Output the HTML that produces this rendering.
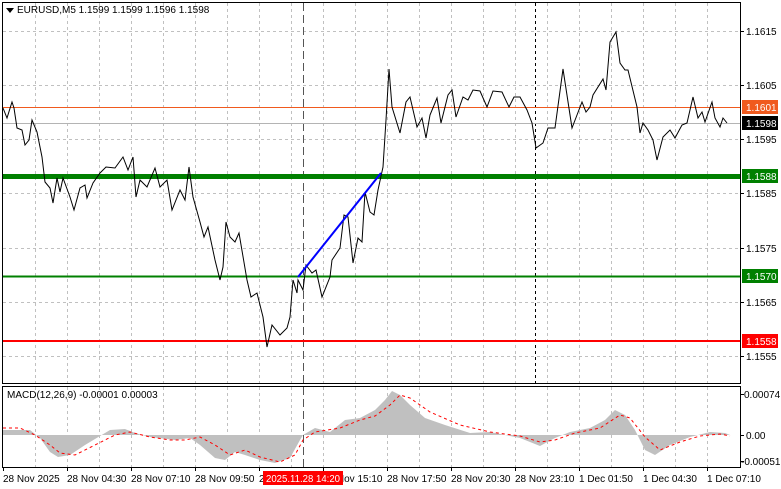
<!DOCTYPE html>
<html><head><meta charset="utf-8"><style>
body{margin:0;background:#fff;width:781px;height:489px;overflow:hidden}
svg{display:block;font-family:"Liberation Sans",sans-serif;font-size:10px}
</style></head><body>
<svg width="781" height="489" viewBox="0 0 781 489">
<rect width="781" height="489" fill="#fff"/>
<g stroke="#c0c0c0" stroke-dasharray="3,3" stroke-width="1">
<line x1="3" y1="31.5" x2="740" y2="31.5"/><line x1="3" y1="85.5" x2="740" y2="85.5"/><line x1="3" y1="139.5" x2="740" y2="139.5"/><line x1="3" y1="193.5" x2="740" y2="193.5"/><line x1="3" y1="248.5" x2="740" y2="248.5"/><line x1="3" y1="302.5" x2="740" y2="302.5"/><line x1="3" y1="356.5" x2="740" y2="356.5"/>
<path d="M35.5 3V383M67.5 3V383M99.5 3V383M131.5 3V383M163.5 3V383M195.5 3V383M227.5 3V383M259.5 3V383M291.5 3V383M323.5 3V383M355.5 3V383M387.5 3V383M419.5 3V383M451.5 3V383M483.5 3V383M515.5 3V383M547.5 3V383M579.5 3V383M611.5 3V383M643.5 3V383M675.5 3V383M707.5 3V383"/>
<path d="M35.5 387V467M67.5 387V467M99.5 387V467M131.5 387V467M163.5 387V467M195.5 387V467M227.5 387V467M259.5 387V467M291.5 387V467M323.5 387V467M355.5 387V467M387.5 387V467M419.5 387V467M451.5 387V467M483.5 387V467M515.5 387V467M547.5 387V467M579.5 387V467M611.5 387V467M643.5 387V467M675.5 387V467M707.5 387V467"/>
</g>
<line x1="303.5" y1="3" x2="303.5" y2="467" stroke="#555" stroke-dasharray="8,4"/>
<line x1="535.5" y1="3" x2="535.5" y2="383" stroke="#000" stroke-dasharray="3,3"/>
<line x1="3" y1="107.5" x2="740" y2="107.5" stroke="#f05a1e"/>
<line x1="3" y1="123.5" x2="740" y2="123.5" stroke="#b4b4b4"/>
<line x1="3" y1="176.5" x2="740" y2="176.5" stroke="#008000" stroke-width="5"/>
<line x1="3" y1="276.5" x2="740" y2="276.5" stroke="#008000" stroke-width="2"/>
<line x1="3" y1="341" x2="740" y2="341" stroke="#ff0000" stroke-width="2"/>
<polyline fill="none" stroke="#000" stroke-width="1" points="3,108 7,118 12,102 14,108 17,128 22,130 25,145 29,140 32,120 37,132 42,157 45,182 50,188 53,203 57,178 60,192 63,178 70,197 74,210 80,188 85,185 87,198 93,183 100,173 106,167 115,168 123,157 128,170 133,157 136,197 140,180 147,187 155,168 160,187 167,180 172,210 180,190 185,200 189,167 193,197 200,222 204,237 208,227 215,260 220,280 223,267 226,222 230,237 235,242 239,233 247,280 251,297 257,293 263,317 267,347 272,325 280,335 287,328 290,317 293,280 297,293 298,280 303,290 306,265 312,273 316,270 322,297 330,277 332,260 340,248 344,215 348,217 353,263 358,238 362,242 365,192 370,212 374,215 378,190 383,167 386,120 389,69 392,107 400,133 406,102 410,97 417,127 422,118 426,138 430,115 437,98 441,123 448,95 452,90 456,117 463,97 468,100 473,90 480,91 487,107 493,91 502,92 509,107 514,97 520,97 527,110 532,123 536,148 543,143 548,128 555,128 563,69 572,128 577,115 582,102 586,112 590,107 593,95 603,79 606,90 610,42 616,32 620,63 625,70 628,70 637,107 640,133 643,123 648,130 653,140 657,160 663,137 670,130 675,138 682,125 687,123 693,97 698,118 702,112 705,122 712,102 715,118 720,127 723,118 727,123"/>
<line x1="298" y1="277" x2="381" y2="173" stroke="#0000ff" stroke-width="2"/>
<polygon fill="#c0c0c0" points="3,435 3,430 30,430 40,438 50,452 58,457 70,455 85,445 100,436 110,430 125,429 135,433 150,437 175,440 190,438 200,445 215,458 225,460 235,452 245,455 260,460 275,463 290,458 300,440 303,435 315,428 330,432 345,420 360,418 375,410 385,400 392,391 400,395 410,405 425,418 445,425 470,433 490,432 520,438 540,446 555,438 570,432 590,428 605,420 615,410 625,415 635,430 645,450 655,455 670,445 690,437 710,432 725,433 730,435"/>
<polyline fill="none" stroke="#ff0000" stroke-dasharray="3,3" points="3,428 20,428 35,435 50,445 60,453 75,455 95,445 115,435 130,432 150,437 170,440 185,440 200,437 215,445 230,455 245,450 260,457 280,462 295,455 303,440 315,432 340,428 360,420 375,416 390,405 400,395 410,398 430,412 460,425 490,432 520,436 540,442 555,440 575,433 600,428 620,415 630,418 645,437 660,450 680,442 700,436 720,434 730,436"/>
<rect x="2.5" y="2.5" width="738" height="381" fill="none" stroke="#000"/>
<rect x="2.5" y="386.5" width="738" height="81" fill="none" stroke="#000"/>
<path d="M6 8l4 5 4-5z" fill="#000"/>
<text x="17" y="13" font-size="10">EURUSD,M5  1.1599 1.1599 1.1596 1.1598</text>
<text x="7" y="398" font-size="10">MACD(12,26,9) -0.00001 0.00003</text>
<g stroke="#000"><path d="M740 31.5h4M740 85.5h4M740 139.5h4M740 193.5h4M740 248.5h4M740 302.5h4M740 356.5h4M740 394.5h4M740 435.5h4M740 461.5h4"/></g>
<g font-size="10" fill="#000">
<text x="746" y="35">1.1615</text><text x="746" y="89">1.1605</text><text x="746" y="143">1.1595</text><text x="746" y="197">1.1585</text><text x="746" y="252">1.1575</text><text x="746" y="306">1.1565</text><text x="746" y="360">1.1555</text>
<text x="744" y="398">0.00074</text><text x="746" y="439">0.00</text><text x="741" y="465">-0.00051</text>
</g>
<g font-size="10">
<rect x="742" y="100" width="36" height="14" fill="#f05a1e"/><text x="746" y="111" fill="#fff">1.1601</text>
<rect x="742" y="116" width="36" height="14" fill="#000"/><text x="746" y="127" fill="#fff">1.1598</text>
<rect x="742" y="169" width="36" height="14" fill="#008000"/><text x="746" y="180" fill="#fff">1.1588</text>
<rect x="742" y="269" width="36" height="14" fill="#008000"/><text x="746" y="280" fill="#fff">1.1570</text>
<rect x="742" y="334" width="36" height="14" fill="#ff0000"/><text x="746" y="345" fill="#fff">1.1558</text>
</g>
<g stroke="#000"><path d="M3.5 467v4M67.5 467v4M131.5 467v4M195.5 467v4M259.5 467v4M323.5 467v4M387.5 467v4M451.5 467v4M515.5 467v4M579.5 467v4M643.5 467v4M707.5 467v4"/></g>
<g font-size="10" fill="#000">
<text x="3" y="482">28 Nov 2025</text><text x="67" y="482">28 Nov 04:30</text><text x="131" y="482">28 Nov 07:10</text><text x="195" y="482">28 Nov 09:50</text><text x="259" y="482">28 Nov 12:30</text><text x="323" y="482">28 Nov 15:10</text><text x="387" y="482">28 Nov 17:50</text><text x="451" y="482">28 Nov 20:30</text><text x="515" y="482">28 Nov 23:10</text><text x="579" y="482">1 Dec 01:50</text><text x="643" y="482">1 Dec 04:30</text><text x="707" y="482">1 Dec 07:10</text>
</g>
<rect x="263" y="471" width="80" height="14" fill="#ff0000"/><text x="266" y="482" fill="#fff" font-size="10" textLength="74" lengthAdjust="spacingAndGlyphs">2025.11.28 14:20</text>
</svg>
</body></html>
